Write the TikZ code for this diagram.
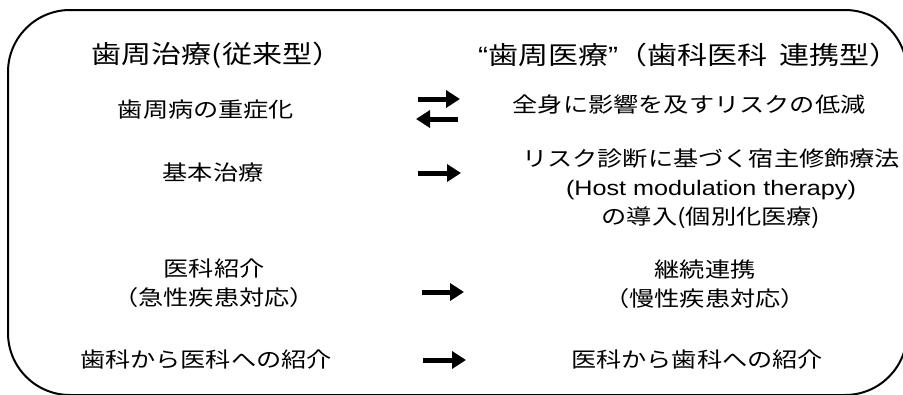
\documentclass[tikz,border=0pt]{standalone}
\usepackage{fontspec}
\setmainfont{Liberation Sans}[FakeStretch=1.2]
\newfontfamily\jpfont{Noto Sans CJK JP}[FakeStretch=1.2]
\usetikzlibrary{arrows.meta}
\tikzset{
  headtxt/.style={inner sep=0pt, font=\jpfont\fontsize{25}{30}\selectfont},
  bodytxt/.style={inner sep=0pt, align=center, font=\jpfont\fontsize{21}{29}\selectfont},
  blockarrow/.style={line width=5pt, -{Triangle[length=14pt,width=17pt]}},
  frame/.style={line width=2pt, rounded corners=62pt}
}
\begin{document}
\begin{tikzpicture}[x=1pt,y=-1pt]
\useasboundingbox (0,0) rectangle (903,394);
\begin{scope}
\clip (0,0) rectangle (903,394);
\draw[frame] (8,10) rectangle (907,395);
\end{scope}
% headers
\node[headtxt] (hl) at (217,55) {歯周治療(従来型）};
\node[headtxt] (hr) at (689,55) {{\rmfamily “}歯周医療{\rmfamily ”}（歯科医科\hspace{12pt}連携型）};
% left column
\node[bodytxt] (l1) at (206,110) {歯周病の重症化};
\node[bodytxt] (l2) at (213,173) {基本治療};
\node[bodytxt] (l3) at (214,283) {医科紹介\\（急性疾患対応）};
\node[bodytxt] (l4) at (206,360) {歯科から医科への紹介};
% right column
\node[bodytxt] (r1) at (689,105) {全身に影響を及すリスクの低減};
\node[bodytxt] (r2) at (711,188.5) {リスク診断に基づく宿主修飾療法\\{\rmfamily (Host modulation therapy)}\\の導入(個別化医療)};
\node[bodytxt] (r3) at (705,284) {継続連携\\（慢性疾患対応）};
\node[bodytxt] (r4) at (697,360) {医科から歯科への紹介};
% arrows
\coordinate (a1s) at (418,99);  \coordinate (a1e) at (460,99);
\coordinate (b1s) at (458,119); \coordinate (b1e) at (416,119);
\coordinate (a2s) at (418,173); \coordinate (a2e) at (461,173);
\coordinate (a3s) at (422,292); \coordinate (a3e) at (464,292);
\coordinate (a4s) at (423,360); \coordinate (a4e) at (466,360);
\draw[blockarrow] (a1s) -- (a1e);
\draw[blockarrow] (b1s) -- (b1e);
\draw[blockarrow] (a2s) -- (a2e);
\draw[blockarrow] (a3s) -- (a3e);
\draw[blockarrow] (a4s) -- (a4e);
\end{tikzpicture}
\end{document}
